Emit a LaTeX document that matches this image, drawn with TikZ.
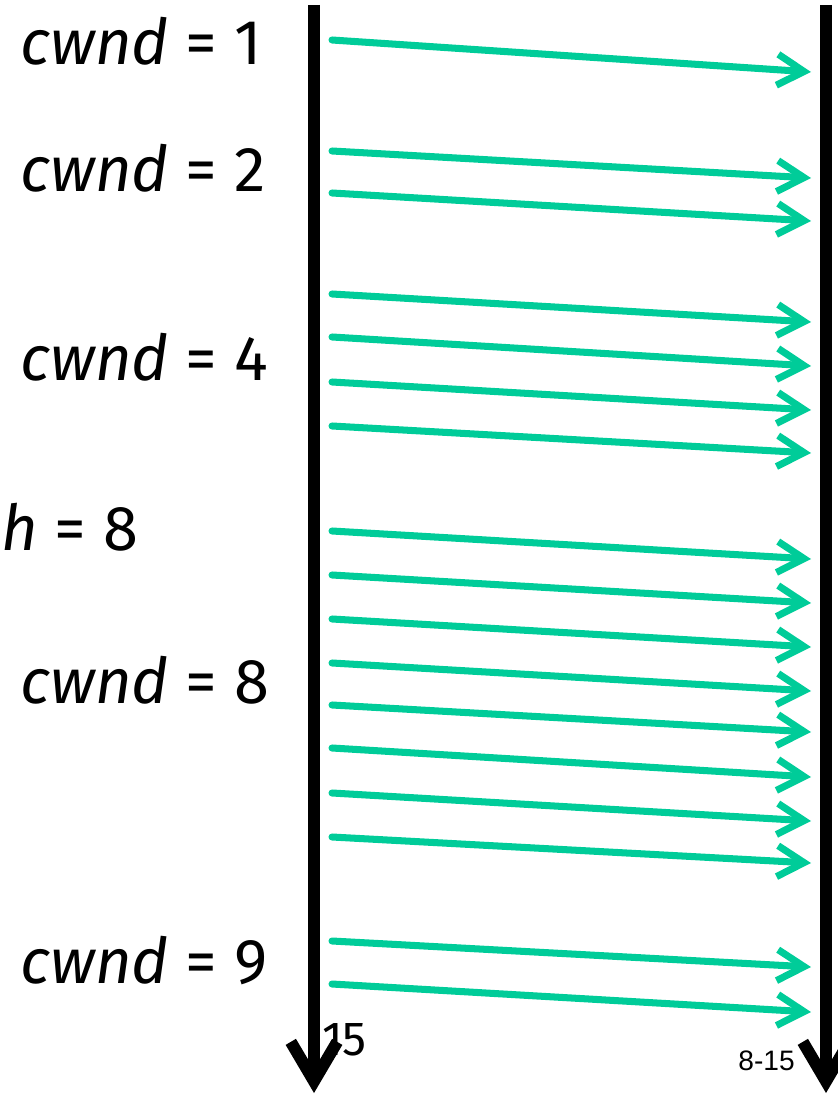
\documentclass[tikz,border=0pt]{standalone}
\usepackage{fontspec}
\setmainfont{Fira Sans}
\newfontfamily\slidefont{Liberation Sans}
\usetikzlibrary{arrows.meta}
\definecolor{segment}{RGB}{0,204,153}

\begin{document}
\begin{tikzpicture}[x=0.025cm,y=-0.025cm,
  timeline/.style={line width=8.5pt,-{Straight Barb[length=28pt,width=33pt]}},
  segarrow/.style={draw=segment,line width=5pt,line cap=round,-{Straight Barb[length=19pt,width=22pt]}},
  cwndlabel/.style={anchor=base west,inner sep=0pt,font=\fontsize{45}{52}\selectfont}]
\useasboundingbox (0,0) rectangle (837,1095);

% sender and receiver time lines
\coordinate (sendtop) at (314,5);
\coordinate (sendbot) at (314,1093);
\coordinate (recvtop) at (826,5);
\coordinate (recvbot) at (826,1093);
\draw[timeline] (sendtop) -- (sendbot);
\draw[timeline] (recvtop) -- (recvbot);

% segments: start y / arrival y
\foreach \n/\ys/\ye in {1/40/72,2/151/178,3/193/221,4/294/322,5/337/366,6/382/410,7/426/453,
  8/531/559,9/575/603,10/619/647,11/663/691,12/705/732,13/748/777,14/793/821,15/837/863,
  16/941/967,17/984/1012}{
  \coordinate (s\n) at (332,\ys);
  \coordinate (r\n) at (811,\ye);
  \draw[segarrow] (s\n) -- (r\n);
}

% window sizes
\node[cwndlabel] (w1) at (20,65) {\textit{cwnd} = 1};
\node[cwndlabel] (w2) at (20,192) {\textit{cwnd} = 2};
\node[cwndlabel] (w4) at (20,380) {\textit{cwnd} = 4};
\node[cwndlabel] (thresh) at (1,550) {\textit{h} = 8};
\node[cwndlabel] (w8) at (20,703) {\textit{cwnd} = 8};
\node[cwndlabel] (w9) at (20,983) {\textit{cwnd} = 9};

\node[anchor=base west,inner sep=0pt,font=\fontsize{34}{40}\selectfont] (num) at (322,1055) {15};
\node[anchor=base east,inner sep=0pt,font=\slidefont\fontsize{20}{24}\selectfont] (page) at (795,1070) {8-15};
\end{tikzpicture}
\end{document}
